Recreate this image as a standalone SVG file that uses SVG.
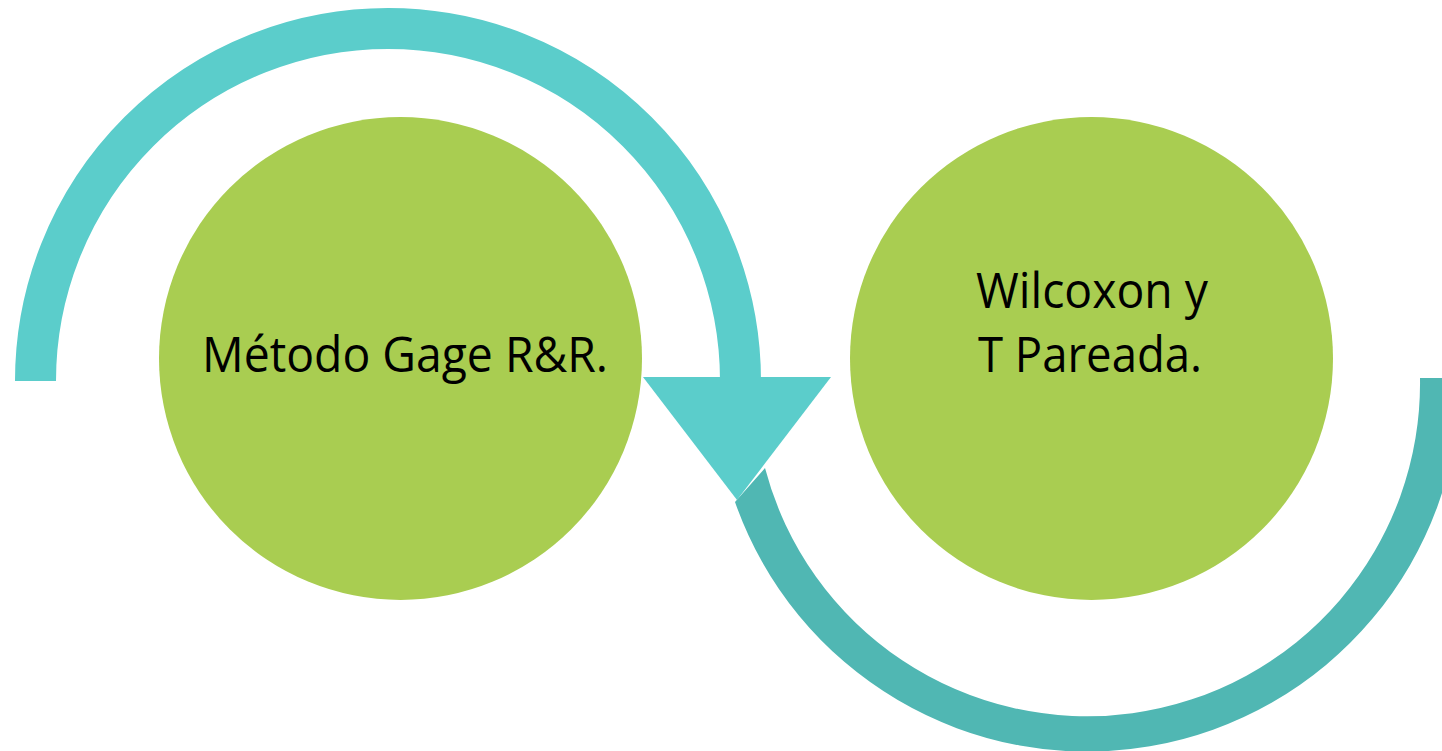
<svg xmlns="http://www.w3.org/2000/svg" width="1442" height="751" viewBox="0 0 1442 751">
  <style>
    .node { fill: #A9CD51; }
    .lbl { font-family: "Open Sans", "Liberation Sans", sans-serif; font-size: 49px; fill: #000000; }
    .top { fill: none; stroke: #5BCDCB; stroke-width: 41; stroke-linecap: butt; }
    .head { fill: #5BCDCB; }
    .bot { fill: #50B7B3; }
  </style>
  <rect x="0" y="0" width="1442" height="751" fill="#FFFFFF"/>
  <g id="connectors">
    <path class="top" d="M 35.5 381 A 352.5 352.5 0 0 1 740.5 381"/>
    <polygon class="head" points="643,377 831,377 737,500"/>
    <path class="bot" d="M 735 502 A 373 373 0 0 0 1460 378 L 1420 378 A 333 333 0 0 1 765 468 Z"/>
  </g>
  <g id="node-gage">
    <circle class="node" cx="400.5" cy="358.5" r="241.5"/>
    <text class="lbl" x="405" y="372" text-anchor="middle" textLength="406" lengthAdjust="spacingAndGlyphs">Método Gage R&amp;R.</text>
  </g>
  <g id="node-wilcoxon">
    <circle class="node" cx="1091.5" cy="358.5" r="241.5"/>
    <text class="lbl" x="1092" y="308" text-anchor="middle" textLength="232" lengthAdjust="spacingAndGlyphs">Wilcoxon y</text>
    <text class="lbl" x="1090" y="372" text-anchor="middle" textLength="224" lengthAdjust="spacingAndGlyphs">T Pareada.</text>
  </g>
</svg>
